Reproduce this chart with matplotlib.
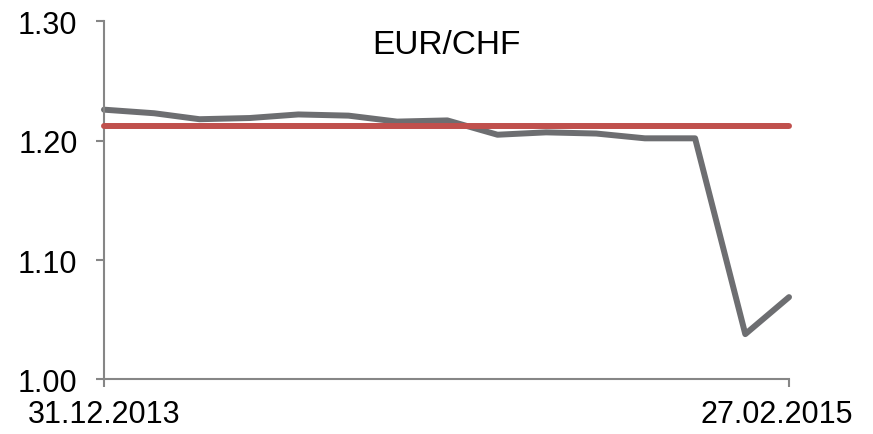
import numpy as np
import pandas as pd
import matplotlib
matplotlib.use("Agg")
import matplotlib.pyplot as plt
import matplotlib.dates as mdates
import matplotlib.transforms as mtransforms

plt.rcParams['font.family'] = ['Liberation Sans', 'DejaVu Sans']

# monthly EUR/CHF closes
dates = pd.to_datetime(["2013-12-31", "2014-01-31", "2014-02-28", "2014-03-31",
                        "2014-04-30", "2014-05-31", "2014-06-30", "2014-07-31",
                        "2014-08-31", "2014-09-30", "2014-10-31", "2014-11-30",
                        "2014-12-31", "2015-01-31", "2015-02-27"])
eurchf = [1.226, 1.223, 1.218, 1.219, 1.222, 1.221, 1.216, 1.217,
          1.205, 1.207, 1.206, 1.202, 1.202, 1.038, 1.069]
floor_dates = pd.to_datetime(["2013-12-31", "2015-02-27"])
floor_vals = [1.212, 1.212]
yticks = [1.00, 1.10, 1.20, 1.30]

axis_col = '#868686'

fig = plt.figure(figsize=(8.73, 4.35), dpi=100)
ax = fig.add_axes([0.1191, 0.1253, 0.7847, 0.8234])

ax.plot(dates, eurchf, color='#6d6e71', lw=4.3, solid_joinstyle='round',
        solid_capstyle='round', zorder=2, clip_on=False)
ax.plot(floor_dates, floor_vals, color='#c0504d', lw=4.3,
        solid_capstyle='round', zorder=3, clip_on=False)

ax.set_xlim(dates[0], dates[-1])
ax.set_ylim(1.00, 1.30)
ax.set_yticks(yticks)
ax.set_yticklabels(['%.2f' % v for v in yticks])
ax.set_xticks([mdates.date2num(dates[0]), mdates.date2num(dates[-1])])
ax.set_xticklabels(['31.12.2013', '27.02.2015'])

for s in ['top', 'right']:
    ax.spines[s].set_visible(False)
for s in ['left', 'bottom']:
    ax.spines[s].set_color(axis_col)
    ax.spines[s].set_linewidth(1.5)

ax.tick_params(axis='y', direction='out', length=6, width=1.5, color=axis_col,
               labelsize=22, pad=13)
ax.tick_params(axis='x', direction='out', length=6, width=1.5, color=axis_col,
               labelsize=22, pad=8)

# last date label sits a bit left of its tick
lab = ax.get_xticklabels()[-1]
lab.set_transform(lab.get_transform() +
                  mtransforms.ScaledTranslation(-12 / 100, 0, fig.dpi_scale_trans))

ax.text(0.5, 0.935, 'EUR/CHF', transform=ax.transAxes, ha='center',
        va='center', fontsize=24)

fig.savefig('out.png', dpi=100)
